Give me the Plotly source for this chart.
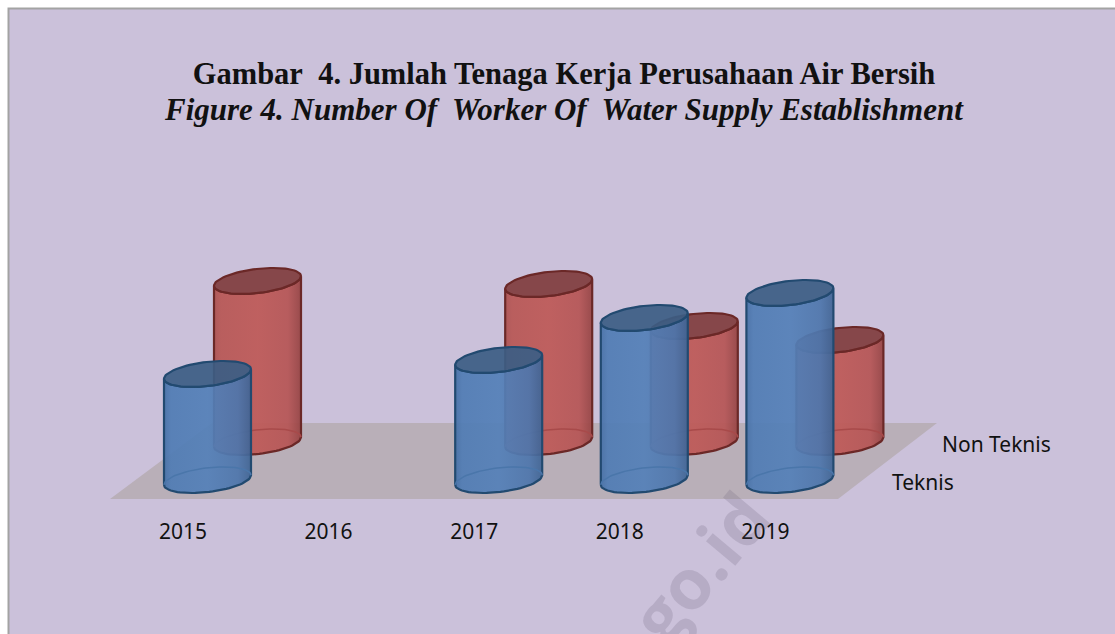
import numpy as np
import plotly.graph_objects as go

# ---- data (arbitrary units because the chart has no value axis)
years = [2015, 2016, 2017, 2018, 2019]
teknis = [106, None, 120, 162, 187]
non_teknis = [161, None, 158, 116, 102]
series_labels = ["Teknis", "Non Teknis"]
title_line1 = "Gambar\u00a0 4. Jumlah Tenaga Kerja Perusahaan Air Bersih"
title_line2 = "Figure 4. Number Of\u00a0 Worker Of\u00a0 Water Supply Establishment"

# ---- drawing constants
W, H = 1115, 634
PLOT_BOTTOM = 505
PX_PER_YEAR = 145.6
X0 = 2015 - 183 / PX_PER_YEAR
X1 = X0 + W / PX_PER_YEAR
Y0, Y1 = -25, 480
RX = 43.5 / PX_PER_YEAR
RY = 12.1
TILT = 4.8
FRONT_DX = 24.5 / PX_PER_YEAR
BACK_DX = 74.5 / PX_PER_YEAR
BACK_DY = 38
BG = "#CBC1DA"


def arc(cx, cy, t0, t1, n=40):
    t = np.linspace(t0, t1, n)
    return cx + RX * np.cos(t), cy + TILT * np.cos(t) + RY * np.sin(t)


def cylinder(fig, cx, base, value, grad, line, top_fill, rim):
    top = base + value
    xb, yb = arc(cx, base, np.pi, 2 * np.pi)          # front of base, left to right
    xt, yt = arc(cx, top, 2 * np.pi, np.pi)           # front of top, right to left
    fig.add_trace(go.Scatter(
        x=np.r_[xb, xt, xb[0]], y=np.r_[yb, yt, yb[0]], mode="lines", fill="toself",
        fillgradient=dict(type="horizontal", colorscale=grad),
        line=dict(color=line, width=2.2), hoverinfo="skip"))
    xr, yr = arc(cx, base, 0, np.pi)                  # hidden rim of the base
    fig.add_trace(go.Scatter(x=xr, y=yr, mode="lines", line=dict(color=rim, width=1.5),
                             hoverinfo="skip"))
    xe, ye = arc(cx, top, 0, 2 * np.pi, 80)
    fig.add_trace(go.Scatter(x=xe, y=ye, mode="lines", fill="toself", fillcolor=top_fill,
                             line=dict(color=line, width=2.2), hoverinfo="skip"))


fig = go.Figure()

# floor
fx = [X0 + 110 / PX_PER_YEAR, X0 + 838 / PX_PER_YEAR, X0 + 937 / PX_PER_YEAR, X0 + 212 / PX_PER_YEAR]
fy = [-19, -19, 57, 57]
fig.add_trace(go.Scatter(x=fx + fx[:1], y=fy + fy[:1], mode="lines", fill="toself",
                         fillcolor="#B9AFB8", line=dict(width=0), hoverinfo="skip"))

red_grad = [[0, "rgba(172,82,82,0.94)"], [0.08, "rgba(184,88,86,0.94)"], [0.5, "rgba(190,90,88,0.94)"],
            [0.85, "rgba(182,86,86,0.94)"], [1, "rgba(150,68,68,0.94)"]]
blue_grad = [[0, "rgba(70,112,166,0.93)"], [0.08, "rgba(80,124,180,0.93)"], [0.5, "rgba(84,128,184,0.93)"],
             [0.85, "rgba(78,118,172,0.93)"], [1, "rgba(64,100,148,0.93)"]]

for yr, v in zip(years, non_teknis):
    if v is not None:
        cylinder(fig, yr + BACK_DX, BACK_DY, v, red_grad, "#6B2827", "rgba(130,64,66,0.95)", "#A84A4A")
for yr, v in zip(years, teknis):
    if v is not None:
        cylinder(fig, yr + FRONT_DX, 0, v, blue_grad, "#224A70", "rgba(60,94,132,0.93)", "#4A76AA")

TEXT = dict(family="Noto Sans", size=21, color="#111111")
annotations = [
    # second title line
    dict(text=f"<b><i>{title_line2}</i></b>", xref="paper", yref="paper", x=564 / W, y=1 - 110 / PLOT_BOTTOM,
         xanchor="center", yanchor="middle", showarrow=False,
         font=dict(family="Liberation Serif", size=31, color="#111111")),
    # faint watermark in the page behind the chart
    dict(text="<b>go.id</b>", xref="paper", yref="paper", x=699 / W, y=1 - 567 / PLOT_BOTTOM,
         xanchor="center", yanchor="middle", showarrow=False, textangle=-50,
         font=dict(family="Open Sans", size=70, color="rgba(100,90,115,0.2)")),
    dict(text=series_labels[0], xref="x", yref="y", x=X0 + 923 / PX_PER_YEAR, y=-2, showarrow=False, font=TEXT),
    dict(text=series_labels[1], xref="x", yref="y", x=X0 + 996 / PX_PER_YEAR, y=36, showarrow=False, font=TEXT),
]

fig.update_layout(
    width=W, height=H, autosize=False, showlegend=False,
    margin=dict(l=0, r=0, t=0, b=H - PLOT_BOTTOM, pad=0),
    paper_bgcolor="white", plot_bgcolor="rgba(0,0,0,0)",
    title=dict(text=f"<b>{title_line1}</b>", x=564 / W, xanchor="center",
               y=1 - 73 / H, yanchor="middle",
               font=dict(family="Liberation Serif", size=30.5, color="#111111")),
    xaxis=dict(range=[X0, X1], tickmode="array", tickvals=years, ticktext=[str(y) for y in years],
               showgrid=False, zeroline=False, showline=False, ticks="outside", ticklen=8,
               tickcolor="rgba(0,0,0,0)", tickfont=TEXT, fixedrange=True),
    yaxis=dict(range=[Y0, Y1], visible=False, fixedrange=True),
    shapes=[dict(type="rect", xref="paper", yref="paper", x0=8.5 / W, x1=1.01, y0=-0.4, y1=1 - 8.5 / PLOT_BOTTOM,
                 fillcolor=BG, line=dict(color="#A3A3A3", width=2), layer="below")],
    annotations=annotations,
)
fig.write_html("out.html", config={"displayModeBar": False},
               post_script="document.body.style.margin='0';document.body.style.overflow='hidden';")
